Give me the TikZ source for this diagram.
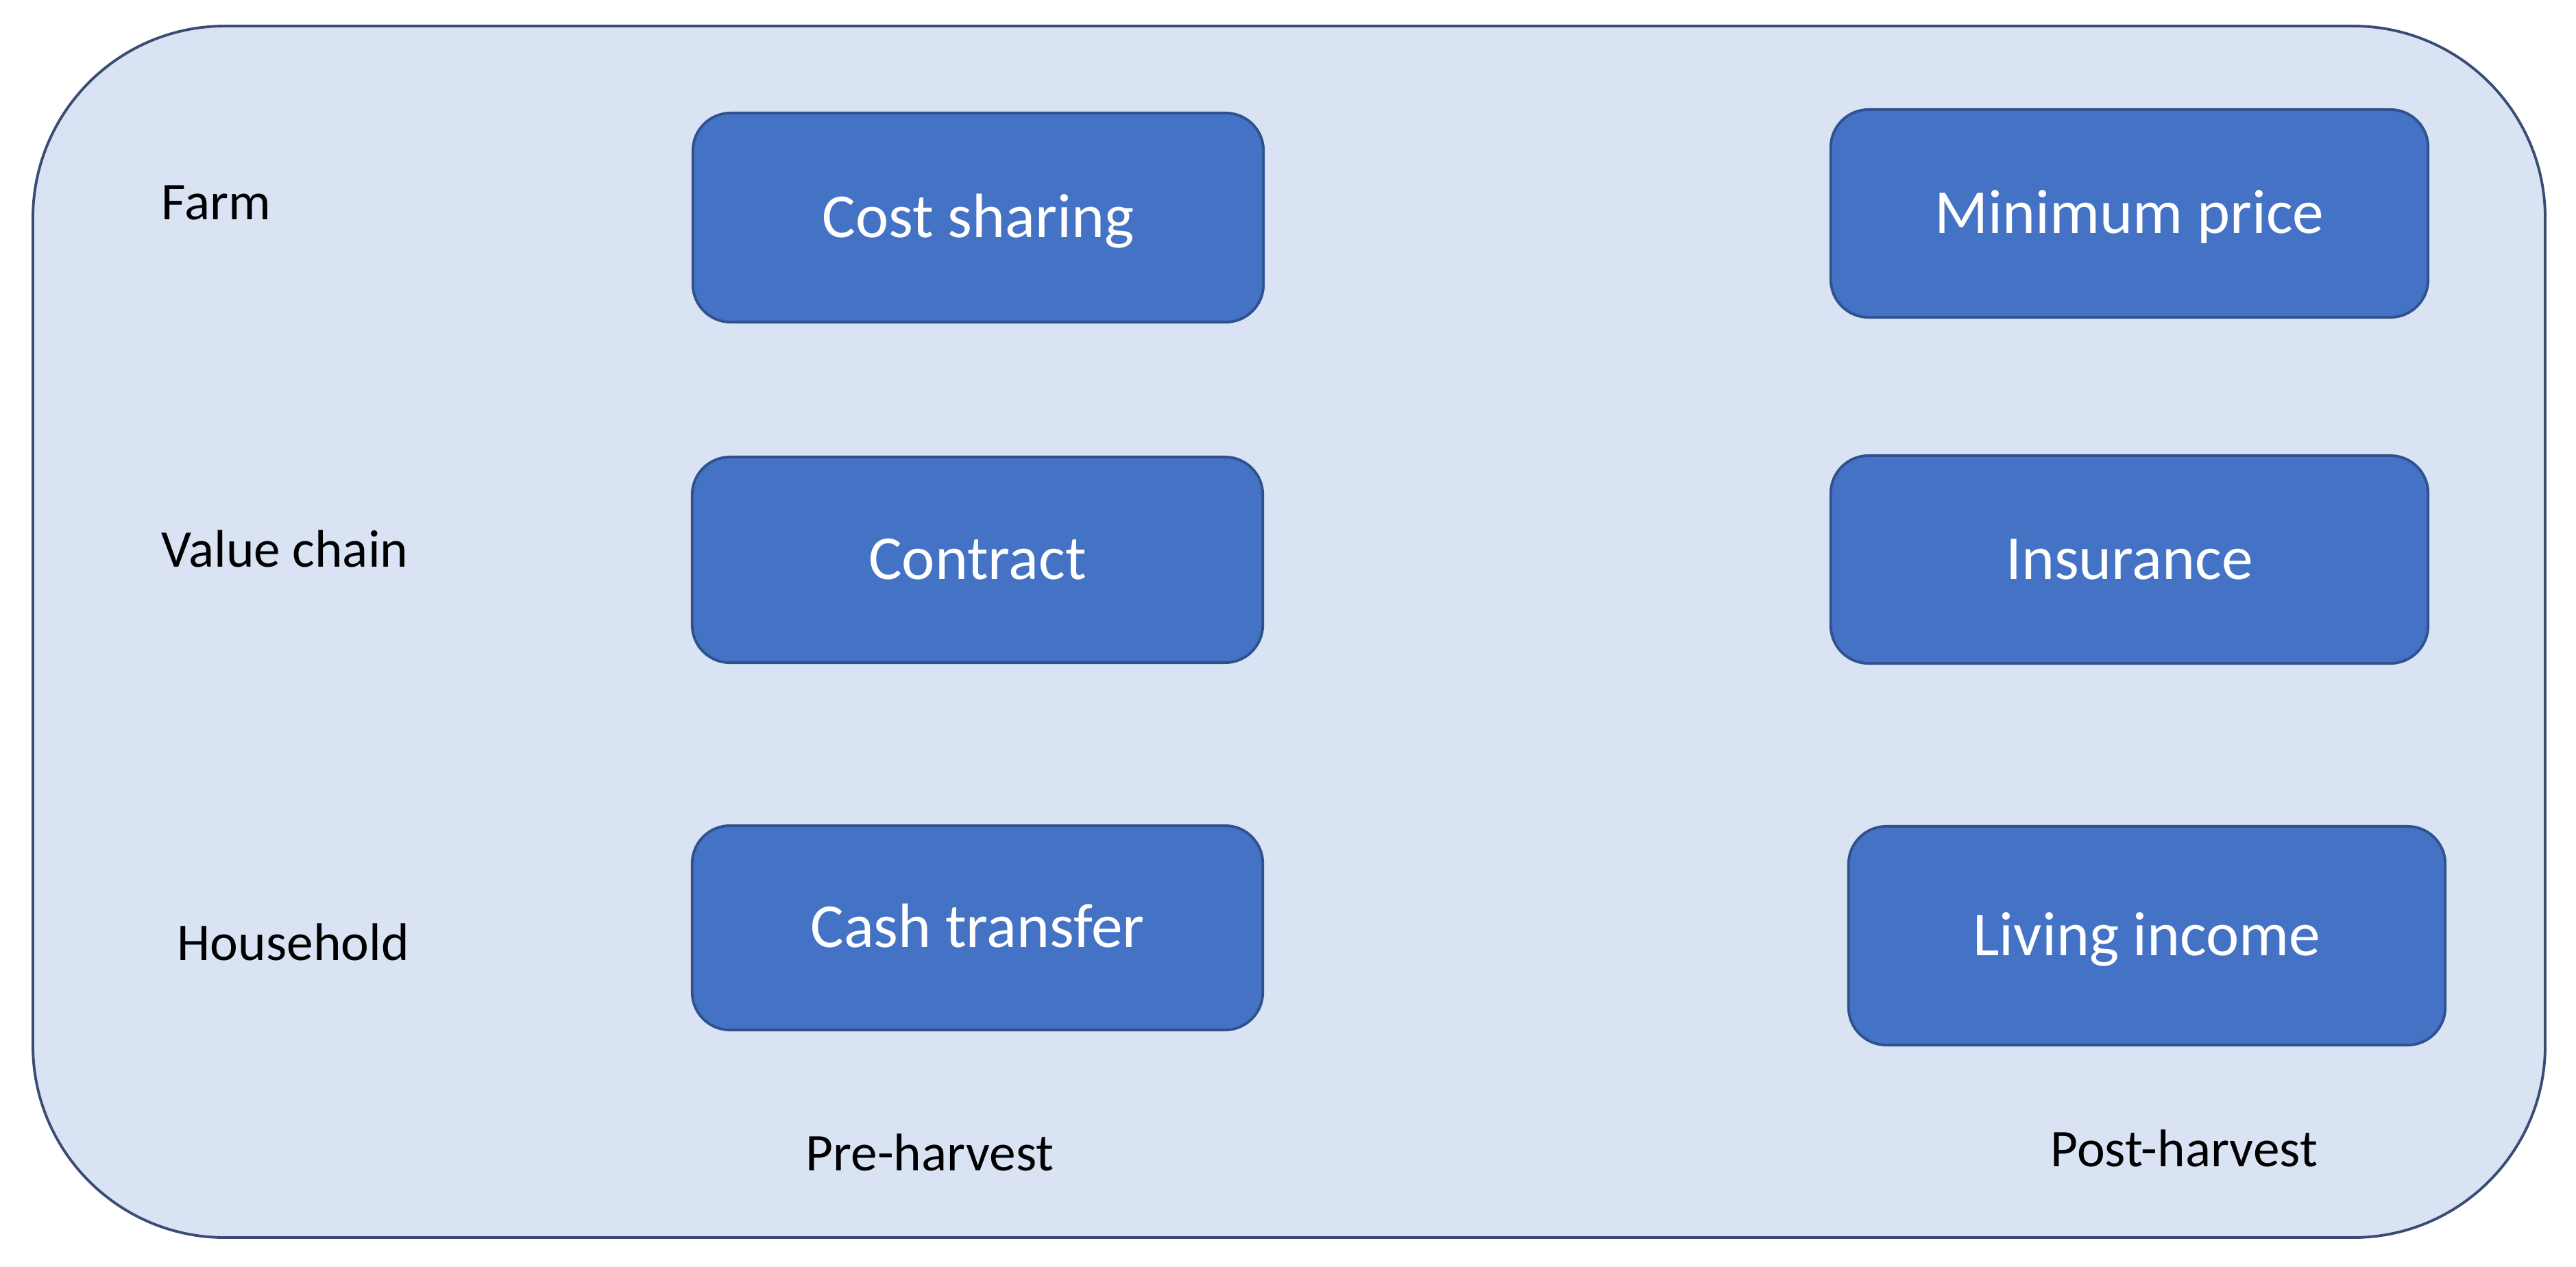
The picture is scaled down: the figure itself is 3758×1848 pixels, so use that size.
\documentclass[tikz,border=0pt]{standalone}
\usepackage{fontspec}
\setmainfont{Carlito}
\definecolor{panelfill}{HTML}{DAE3F3}
\definecolor{paneledge}{HTML}{3A4C74}
\definecolor{boxfill}{HTML}{4472C4}
\definecolor{boxedge}{HTML}{2F528F}
\begin{document}
\begin{tikzpicture}[x=0.01cm,y=-0.01cm,
  panel/.style={draw=paneledge,fill=panelfill,line width=1.1pt,rounded corners=2.8cm},
  measure/.style={draw=boxedge,fill=boxfill,line width=1.1pt,rounded corners=0.55cm,
    text=white,font=\fontsize{26}{30}\selectfont,inner sep=0pt,
    text height=16.4pt,text depth=0pt,align=center},
  rowlabel/.style={anchor=base west,inner sep=0pt,text=black,font=\fontsize{22}{26}\selectfont}]
\useasboundingbox (0,0) rectangle (3758,1848);
\draw[panel] (48,38) rectangle (3713,1806);
% measures
\node[measure,minimum width=8.32cm,minimum height=3.05cm] (cost) at (1427,317.5) {Cost sharing};
\node[measure,minimum width=8.32cm,minimum height=3.00cm] (contract) at (1426,817) {Contract};
\node[measure,minimum width=8.32cm,minimum height=2.98cm] (cash) at (1426,1354) {Cash transfer};
\node[measure,minimum width=8.71cm,minimum height=3.03cm] (minprice) at (3106.5,311.5) {Minimum price};
\node[measure,minimum width=8.71cm,minimum height=3.03cm] (insur) at (3106.5,816.5) {Insurance};
\node[measure,minimum width=8.70cm,minimum height=3.19cm] (living) at (3132,1365.5) {Living income};
% row and column labels
\node[rowlabel] (farm) at (235,320) {Farm};
\node[rowlabel] (value) at (235,827) {Value chain};
\node[rowlabel] (house) at (258,1401) {Household};
\node[rowlabel] (pre) at (1175,1708) {Pre-harvest};
\node[rowlabel] (post) at (2991,1702) {Post-harvest};
\end{tikzpicture}
\end{document}
